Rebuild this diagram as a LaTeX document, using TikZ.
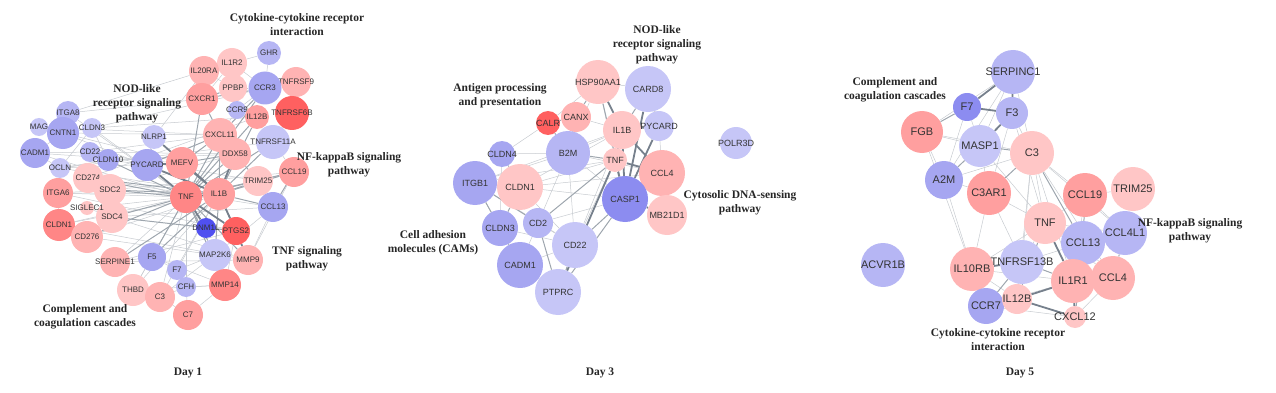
\documentclass[tikz,border=0pt]{standalone}
\usepackage{fontspec}
\setmainfont{Liberation Serif}
\setsansfont{Liberation Sans}

\definecolor{pkA}{HTML}{FFC6C6}
\definecolor{pkB}{HTML}{FFB3B3}
\definecolor{pkC}{HTML}{FF9F9F}
\definecolor{rdA}{HTML}{FF8686}
\definecolor{rdB}{HTML}{FF6060}
\definecolor{blA}{HTML}{C6C6F7}
\definecolor{blB}{HTML}{B6B6F4}
\definecolor{blC}{HTML}{A6A6F1}
\definecolor{blD}{HTML}{8C8CF0}
\definecolor{blE}{HTML}{5050F0}
\definecolor{edgec}{HTML}{5E6A78}

\pgfdeclarelayer{edges}
\pgfsetlayers{edges,main}

\newcommand{\genefont}{\sffamily\small}

\tikzset{
  gene/.style={circle, inner sep=0pt, minimum size=#1},
  lab/.style={label={[font=\genefont, text=black!80, inner sep=0pt]center:#1}},
  thinedge/.style={draw=edgec!35, line width=0.5pt},
  midedge/.style={draw=edgec!60, line width=1pt},
  thickedge/.style={draw=edgec!85, line width=1.8pt},
  pathtitle/.style={font=\bfseries\fontsize{11.5}{14}\selectfont, align=center, text=black!85},
}

\begin{document}
\begin{tikzpicture}[x=1pt, y=-1pt]
\useasboundingbox (0,0) rectangle (1276,393);

% Day 1
\begin{scope}
  \def\genefont{\sffamily\fontsize{8}{9}\selectfont}
  \node[gene=24, fill=blB, lab=GHR]       (aGHR)      at (269,53)  {};
  \node[gene=30, fill=pkA, lab=IL1R2]     (aIL1R2)    at (232,63)  {};
  \node[gene=30, fill=pkB, lab=IL20RA]    (aIL20RA)   at (204,71)  {};
  \node[gene=30, fill=pkB, lab=TNFRSF9]   (aTNFRSF9)  at (296,82)  {};
  \node[gene=28, fill=pkA, lab=PPBP]      (aPPBP)     at (233,88)  {};
  \node[gene=33, fill=blC, lab=CCR3]      (aCCR3)     at (265,88)  {};
  \node[gene=32, fill=pkC, lab=CXCR1]     (aCXCR1)    at (202,99)  {};
  \node[gene=34, fill=rdB, lab=TNFRSF6B]  (aTNFRSF6B) at (292,113) {};
  \node[gene=18, fill=blB, lab=CCR9]      (aCCR9)     at (237,110) {};
  \node[gene=24, fill=pkC, lab=IL12B]     (aIL12B)    at (257,117) {};
  \node[gene=34, fill=blA, lab=TNFRSF11A] (aTNFRSF11A) at (273,142) {};
  \node[gene=34, fill=pkB, lab=CXCL11]    (aCXCL11)   at (220,135) {};
  \node[gene=32, fill=pkB, lab=DDX58]     (aDDX58)    at (235,154) {};
  \node[gene=30, fill=pkC, lab=CCL19]     (aCCL19)    at (294,172) {};
  \node[gene=30, fill=pkA, lab=TRIM25]    (aTRIM25)   at (258,181) {};
  \node[gene=30, fill=blC, lab=CCL13]     (aCCL13)    at (273,207) {};
  \node[gene=24, fill=blA, lab=NLRP1]     (aNLRP1)    at (154,137) {};
  \node[gene=32, fill=blC, lab=PYCARD]    (aPYCARD)   at (147,165) {};
  \node[gene=32, fill=pkC, lab=MEFV]      (aMEFV)     at (182,163) {};
  \node[gene=32, fill=rdA, lab=TNF]       (aTNF)      at (186,197) {};
  \node[gene=32, fill=pkC, lab=IL1B]      (aIL1B)     at (219,194) {};
  \node[gene=20, fill=blE, lab=DNM1L]     (aDNM1L)    at (206,228) {};
  \node[gene=28, fill=rdB, lab=PTGS2]     (aPTGS2)    at (236,231) {};
  \node[gene=32, fill=blA, lab=MAP2K6]    (aMAP2K6)   at (215,255) {};
  \node[gene=30, fill=pkB, lab=MMP9]      (aMMP9)     at (248,260) {};
  \node[gene=32, fill=rdA, lab=MMP14]     (aMMP14)    at (225,285) {};
  \node[gene=30, fill=pkB, lab=SERPINE1]  (aSERPINE1) at (115,262) {};
  \node[gene=28, fill=blC, lab=F5]        (aF5)       at (152,257) {};
  \node[gene=20, fill=blB, lab=F7]        (aF7)       at (177,270) {};
  \node[gene=32, fill=pkA, lab=THBD]      (aTHBD)     at (133,290) {};
  \node[gene=30, fill=pkB, lab=C3]        (aC3)       at (160,297) {};
  \node[gene=20, fill=blB, lab=CFH]       (aCFH)      at (186,287) {};
  \node[gene=30, fill=pkC, lab=C7]        (aC7)       at (188,315) {};
  \node[gene=24, fill=blB, lab=ITGA8]     (aITGA8)    at (68,113)  {};
  \node[gene=18, fill=blA, lab=MAG]       (aMAG)      at (39,127)  {};
  \node[gene=32, fill=blC, lab=CNTN1]     (aCNTN1)    at (63,133)  {};
  \node[gene=20, fill=blA, lab=CLDN3]     (aCLDN3)    at (92,128)  {};
  \node[gene=30, fill=blC, lab=CADM1]     (aCADM1)    at (35,153)  {};
  \node[gene=20, fill=blB, lab=CD22]      (aCD22)     at (90,152)  {};
  \node[gene=22, fill=blC, lab=CLDN10]    (aCLDN10)   at (108,160) {};
  \node[gene=20, fill=blA, lab=OCLN]      (aOCLN)     at (60,168)  {};
  \node[gene=30, fill=pkA, lab=CD274]     (aCD274)    at (88,178)  {};
  \node[gene=30, fill=pkC, lab=ITGA6]     (aITGA6)    at (58,193)  {};
  \node[gene=32, fill=pkA, lab=SDC2]      (aSDC2)     at (110,190) {};
  \node[gene=32, fill=pkA, lab=SDC4]      (aSDC4)     at (112,217) {};
  \node[gene=32, fill=rdA, lab=CLDN1]     (aCLDN1)    at (59,225)  {};
  \node[gene=32, fill=pkB, lab=CD276]     (aCD276)    at (87,237)  {};
  \node[gene=14, fill=pkA, lab=SIGLEC1]   (aSIGLEC1)  at (87,208)  {};

  \begin{pgfonlayer}{edges}
    \foreach \u/\v in {aITGA8/aCNTN1, aMAG/aCNTN1, aCNTN1/aCADM1, aCNTN1/aCLDN3,
      aCADM1/aOCLN, aCLDN3/aCLDN10, aCD22/aPYCARD, aOCLN/aCLDN10, aCLDN3/aOCLN,
      aCADM1/aCD22, aITGA8/aTNF, aCNTN1/aIL1B, aITGA6/aTNF, aCLDN1/aIL1B,
      aCLDN1/aITGA6, aITGA6/aSDC2, aCD274/aSDC2, aSIGLEC1/aSDC4, aCD276/aSDC4,
      aSERPINE1/aF5, aF5/aF7, aF7/aCFH, aCFH/aC3, aC3/aTHBD, aTHBD/aF5, aC7/aC3,
      aC7/aCFH, aSERPINE1/aMMP9, aC3/aTNF, aTHBD/aTNF, aTNFRSF9/aCCR3,
      aGHR/aCCR3, aGHR/aIL1R2, aIL1R2/aIL20RA, aIL20RA/aCXCR1, aIL1R2/aCCR3,
      aTNFRSF9/aTNFRSF6B, aTNFRSF6B/aTNFRSF11A, aTNFRSF11A/aCCL19, aCCR9/aCCR3,
      aCCR9/aCXCL11, aCCL13/aMMP9, aCCL19/aMMP9, aNLRP1/aIL20RA, aCNTN1/aMEFV,
      aCADM1/aTNF, aCLDN3/aCCR3, aCD22/aCXCL11, aITGA8/aIL20RA, aCLDN1/aMMP9,
      aITGA6/aPTGS2, aSDC2/aCCL19, aSDC4/aCCL13, aCD274/aIL12B, aCD276/aMAP2K6,
      aTHBD/aMMP14, aC7/aMMP14, aF7/aMAP2K6, aCFH/aMMP14, aSERPINE1/aPTGS2,
      aC3/aIL1B, aOCLN/aMEFV, aCLDN10/aDDX58, aCLDN10/aPYCARD, aMAG/aCXCL11,
      aCD22/aTRIM25, aCLDN3/aIL12B, aOCLN/aTNFRSF11A, aCD274/aCCL13,
      aITGA8/aCXCR1, aCNTN1/aCXCL11, aCADM1/aMEFV, aCD22/aDDX58, aCLDN3/aTNF,
      aOCLN/aIL1B, aITGA6/aIL1B, aCLDN1/aTNF, aCD276/aIL1B, aSDC2/aDDX58,
      aSDC4/aMMP9, aSIGLEC1/aTNF, aSERPINE1/aTNF, aF5/aMMP14, aTHBD/aIL1B,
      aC3/aMAP2K6, aCFH/aTNF, aF7/aIL1B, aMAP2K6/aCCL13, aMMP14/aPTGS2,
      aCCL19/aTRIM25, aTRIM25/aCCL13, aPPBP/aCCR3, aIL1R2/aCXCR1, aPPBP/aIL20RA}
      \draw[thinedge] (\u) -- (\v);
    \foreach \u/\v in {aTNF/aCXCL11, aIL1B/aCXCL11, aTNF/aDDX58, aCXCL11/aCXCR1,
      aCXCR1/aPPBP, aCCR3/aCXCR1, aIL12B/aTNF, aIL12B/aIL1B, aTNF/aMMP9,
      aIL1B/aMMP9, aTNF/aCCL19, aIL1B/aCCL13, aCCL19/aCCL13, aTNF/aTRIM25,
      aDDX58/aTRIM25, aTNF/aSDC4, aTNF/aSDC2, aIL1B/aSERPINE1, aTNF/aF5,
      aMAP2K6/aTNF, aMMP14/aTNF, aCD274/aTNF, aTNF/aCD276, aTNF/aCCR3,
      aCXCL11/aCCR3, aCLDN10/aTNF, aIL1B/aCCL19, aTNFRSF11A/aTNF, aF5/aIL1B,
      aSDC2/aIL1B, aSDC4/aPTGS2, aMEFV/aCXCL11, aPYCARD/aCXCL11, aIL1B/aTNFRSF11A,
      aMEFV/aDDX58, aCXCR1/aTNF, aIL1B/aMAP2K6, aIL1B/aTRIM25, aCD274/aIL1B}
      \draw[midedge] (\u) -- (\v);
    \foreach \u/\v in {aTNF/aIL1B, aTNF/aMEFV, aIL1B/aMEFV, aPYCARD/aMEFV,
      aPYCARD/aIL1B, aNLRP1/aIL1B, aNLRP1/aPYCARD, aIL1B/aDDX58, aCXCL11/aDDX58,
      aTNF/aPTGS2, aIL1B/aPTGS2, aPTGS2/aMMP9, aTNF/aDNM1L, aPYCARD/aTNF}
      \draw[thickedge] (\u) -- (\v);
  \end{pgfonlayer}

  \node[pathtitle] (aCytTitle) at (297,25)  {Cytokine-cytokine receptor\\interaction};
  \node[pathtitle] (aNodTitle) at (137,104) {NOD-like\\receptor signaling\\pathway};
  \node[pathtitle] (aNfkTitle) at (349,165) {NF-kappaB signaling\\pathway};
  \node[pathtitle] (aTnfTitle) at (307,259) {TNF signaling\\pathway};
  \node[pathtitle] (aComTitle) at (85,317)  {Complement and\\coagulation cascades};
  \node[pathtitle] (aDay)      at (188,373) {Day 1};
\end{scope}

% Day 3
\begin{scope}
  \def\genefont{\sffamily\fontsize{9}{10}\selectfont}
  \node[gene=44, fill=pkA, lab=HSP90AA1] (bHSP90AA1) at (598,82)  {};
  \node[gene=46, fill=blA, lab=CARD8]    (bCARD8)    at (648,89)  {};
  \node[gene=30, fill=pkB, lab=CANX]     (bCANX)     at (576,117) {};
  \node[gene=24, fill=rdB, lab=CALR]     (bCALR)     at (548,123) {};
  \node[gene=38, fill=pkA, lab=IL1B]     (bIL1B)     at (622,130) {};
  \node[gene=30, fill=blA, lab=PYCARD]   (bPYCARD)   at (659,126) {};
  \node[gene=32, fill=blA, lab=POLR3D]   (bPOLR3D)   at (736,143) {};
  \node[gene=26, fill=blC, lab=CLDN4]    (bCLDN4)    at (502,154) {};
  \node[gene=44, fill=blB, lab=B2M]      (bB2M)      at (568,153) {};
  \node[gene=24, fill=pkA, lab=TNF]      (bTNF)      at (615,160) {};
  \node[gene=46, fill=pkB, lab=CCL4]     (bCCL4)     at (662,173) {};
  \node[gene=44, fill=blC, lab=ITGB1]    (bITGB1)    at (475,183) {};
  \node[gene=46, fill=pkA, lab=CLDN1]    (bCLDN1)    at (520,187) {};
  \node[gene=40, fill=pkA, lab=MB21D1]   (bMB21D1)   at (667,215) {};
  \node[gene=46, fill=blD, lab=CASP1]    (bCASP1)    at (625,199) {};
  \node[gene=36, fill=blC, lab=CLDN3]    (bCLDN3)    at (500,228) {};
  \node[gene=30, fill=blB, lab=CD2]      (bCD2)      at (538,223) {};
  \node[gene=46, fill=blA, lab=CD22]     (bCD22)     at (575,245) {};
  \node[gene=46, fill=blC, lab=CADM1]    (bCADM1)    at (520,265) {};
  \node[gene=46, fill=blA, lab=PTPRC]    (bPTPRC)    at (558,292) {};

  \begin{pgfonlayer}{edges}
    \foreach \u/\v in {bHSP90AA1/bB2M, bHSP90AA1/bCARD8, bB2M/bITGB1, bB2M/bCD2,
      bB2M/bCD22, bB2M/bIL1B, bB2M/bCASP1, bITGB1/bCD22, bCLDN1/bTNF,
      bCLDN1/bIL1B, bCLDN4/bB2M, bCLDN4/bCLDN3, bITGB1/bCADM1, bCD22/bTNF,
      bCADM1/bCD2, bCADM1/bPTPRC, bCADM1/bCD22, bCLDN1/bCD22, bCD2/bCD22,
      bPYCARD/bCCL4, bHSP90AA1/bTNF, bCANX/bIL1B, bCALR/bHSP90AA1,
      bCD22/bIL1B, bMB21D1/bCCL4, bITGB1/bTNF, bCLDN1/bCASP1, bCLDN4/bCALR,
      bCLDN3/bCD22, bCLDN1/bCCL4, bITGB1/bIL1B, bB2M/bCCL4, bCD2/bCASP1}
      \draw[thinedge] (\u) -- (\v);
    \foreach \u/\v in {bB2M/bCALR, bB2M/bCANX, bCANX/bHSP90AA1, bCALR/bCANX,
      bB2M/bTNF, bCD2/bPTPRC, bCADM1/bCLDN3, bITGB1/bCLDN3, bCD22/bPTPRC,
      bCASP1/bPTPRC, bCLDN1/bCLDN4, bCLDN1/bCLDN3, bITGB1/bCD2, bHSP90AA1/bCASP1,
      bCD22/bCASP1, bTNF/bCD2, bCARD8/bIL1B}
      \draw[midedge] (\u) -- (\v);
    \foreach \u/\v in {bIL1B/bCASP1, bPYCARD/bCASP1, bTNF/bCASP1, bCCL4/bCASP1,
      bIL1B/bTNF, bIL1B/bPYCARD, bCARD8/bCASP1, bCARD8/bPYCARD, bHSP90AA1/bIL1B,
      bTNF/bPTPRC, bIL1B/bCCL4, bTNF/bCCL4, bCASP1/bMB21D1}
      \draw[thickedge] (\u) -- (\v);
  \end{pgfonlayer}

  \node[pathtitle] (bAntTitle) at (500,96)  {Antigen processing\\and presentation};
  \node[pathtitle] (bNodTitle) at (657,45)  {NOD-like\\receptor signaling\\pathway};
  \node[pathtitle] (bCamTitle) at (433,243) {Cell adhesion\\molecules (CAMs)};
  \node[pathtitle] (bDnaTitle) at (740,203) {Cytosolic DNA-sensing\\pathway};
  \node[pathtitle] (bDay)      at (600,373) {Day 3};
\end{scope}

% Day 5
\begin{scope}
  \def\genefont{\sffamily\fontsize{11}{12}\selectfont}
  \node[gene=44, fill=blB, lab=SERPINC1]  (cSERPINC1)  at (1013,72)  {};
  \node[gene=28, fill=blD, lab=F7]        (cF7)        at (967,107)  {};
  \node[gene=32, fill=blB, lab=F3]        (cF3)        at (1012,113) {};
  \node[gene=42, fill=pkC, lab=FGB]       (cFGB)       at (922,132)  {};
  \node[gene=44, fill=pkA, lab=C3]        (cC3)        at (1032,153) {};
  \node[gene=42, fill=blA, lab=MASP1]     (cMASP1)     at (980,146)  {};
  \node[gene=38, fill=blC, lab=A2M]       (cA2M)       at (944,180)  {};
  \node[gene=44, fill=pkC, lab=C3AR1]     (cC3AR1)     at (989,193)  {};
  \node[gene=44, fill=pkC, lab=CCL19]     (cCCL19)     at (1085,195) {};
  \node[gene=44, fill=pkA, lab=TRIM25]    (cTRIM25)    at (1133,189) {};
  \node[gene=42, fill=pkA, lab=TNF]       (cTNF)       at (1045,223) {};
  \node[gene=44, fill=blB, lab=CCL4L1]    (cCCL4L1)    at (1125,233) {};
  \node[gene=44, fill=blB, lab=CCL13]     (cCCL13)     at (1083,243) {};
  \node[gene=44, fill=blB, lab=ACVR1B]    (cACVR1B)    at (883,265)  {};
  \node[gene=44, fill=pkB, lab=IL10RB]    (cIL10RB)    at (972,269)  {};
  \node[gene=44, fill=blA, lab=TNFRSF13B] (cTNFRSF13B) at (1022,262) {};
  \node[gene=44, fill=pkB, lab=CCL4]      (cCCL4)      at (1113,278) {};
  \node[gene=44, fill=pkB, lab=IL1R1]     (cIL1R1)     at (1073,281) {};
  \node[gene=36, fill=blC, lab=CCR7]      (cCCR7)      at (986,306)  {};
  \node[gene=30, fill=pkA, lab=IL12B]     (cIL12B)     at (1017,299) {};
  \node[gene=22, fill=pkA, lab=CXCL12]    (cCXCL12)    at (1075,317) {};

  \begin{pgfonlayer}{edges}
    \foreach \u/\v in {cSERPINC1/cFGB, cSERPINC1/cMASP1, cSERPINC1/cC3,
      cSERPINC1/cA2M, cF7/cMASP1, cF7/cA2M, cFGB/cA2M, cFGB/cMASP1, cFGB/cC3,
      cA2M/cC3, cA2M/cC3AR1, cF3/cC3, cMASP1/cC3AR1, cF3/cC3AR1, cC3/cTNF,
      cC3/cCCL19, cC3/cIL1R1, cC3/cTNFRSF13B, cC3AR1/cTNF, cC3AR1/cIL10RB,
      cC3AR1/cTNFRSF13B, cCCL19/cTNF, cCCL19/cTRIM25, cTNF/cTNFRSF13B,
      cTNF/cCCL4L1, cTNF/cCCL4, cIL10RB/cCCR7, cIL10RB/cIL12B, cIL10RB/cTNF,
      cIL10RB/cIL1R1, cTNFRSF13B/cCCL13, cTNFRSF13B/cIL12B, cCCL13/cIL1R1,
      cCCL13/cCCL4, cCCL19/cCCL4L1, cCCL19/cIL1R1, cCCR7/cIL1R1, cCCL4/cCXCL12,
      cCCR7/cCXCL12, cF3/cTNF, cMASP1/cTNF, cA2M/cIL10RB, cFGB/cIL10RB,
      cC3/cCCL4, cC3/cIL12B, cC3/cCCL4L1}
      \draw[thinedge] (\u) -- (\v);
    \foreach \u/\v in {cF7/cFGB, cA2M/cMASP1, cTNF/cIL12B, cCCR7/cTNFRSF13B,
      cCCL13/cCXCL12, cCCL19/cCCL13, cCCL4L1/cCCL4, cTNFRSF13B/cIL1R1,
      cTNF/cCCL13, cC3/cCCL13, cMASP1/cC3, cC3/cC3AR1}
      \draw[midedge] (\u) -- (\v);
    \foreach \u/\v in {cSERPINC1/cF7, cSERPINC1/cF3, cF7/cF3, cF3/cMASP1,
      cTNF/cIL1R1, cIL1R1/cCCL4, cIL1R1/cCXCL12, cIL12B/cIL1R1, cCCR7/cIL12B,
      cIL10RB/cTNFRSF13B, cCCL13/cCCL4L1, cIL12B/cCXCL12}
      \draw[thickedge] (\u) -- (\v);
  \end{pgfonlayer}

  \node[pathtitle] (cComTitle) at (895,90)   {Complement and\\coagulation cascades};
  \node[pathtitle] (cNfkTitle) at (1190,231) {NF-kappaB signaling\\pathway};
  \node[pathtitle] (cCytTitle) at (998,340)  {Cytokine-cytokine receptor\\interaction};
  \node[pathtitle] (cDay)      at (1020,373) {Day 5};
\end{scope}
\end{tikzpicture}
\end{document}
